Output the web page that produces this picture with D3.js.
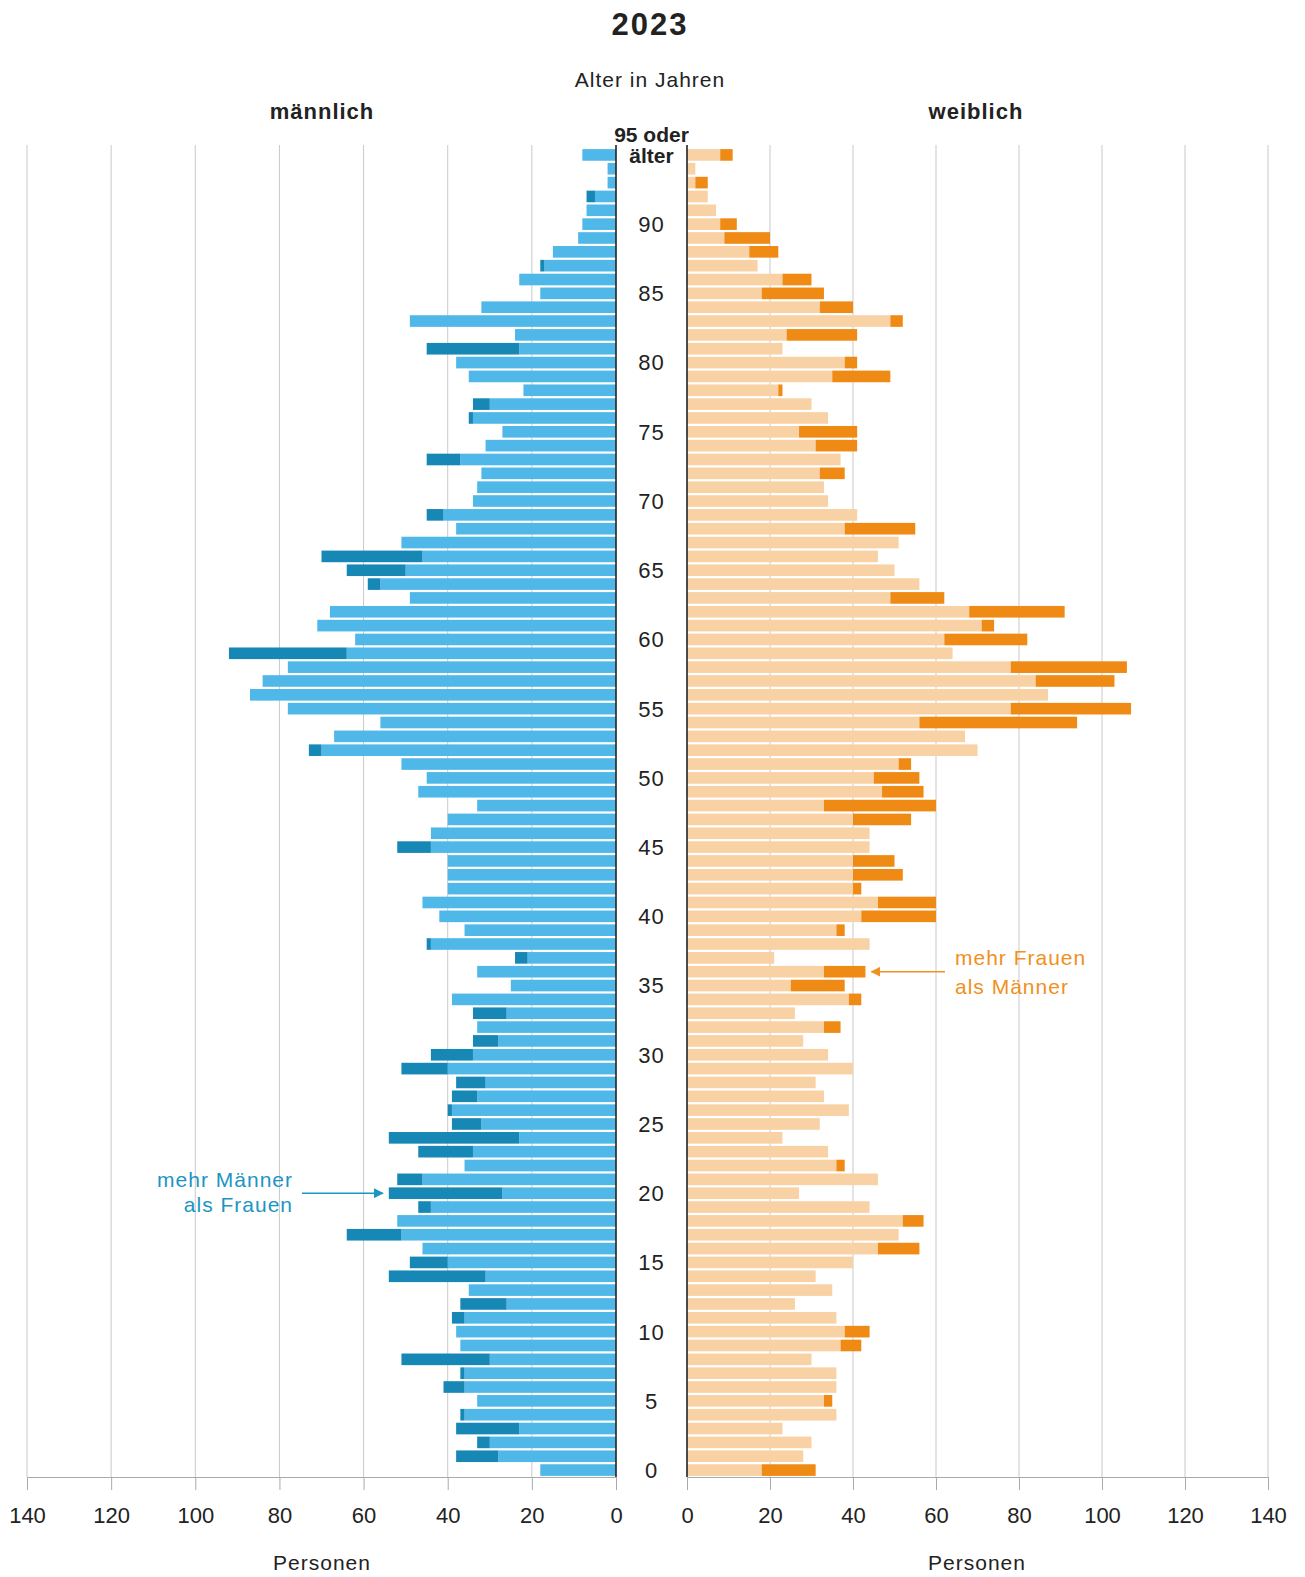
<!DOCTYPE html>
<html>
<head>
<meta charset="utf-8">
<script src="https://cdn.jsdelivr.net/npm/d3@7"></script>
<style>
  body { margin: 0; background: #fff; }
  svg text { font-family: "Liberation Sans", Arial, sans-serif; fill: #222; }
</style>
</head>
<body>
<div id="chart"></div>
<script>
// Alter 0..95 (95 = "95 oder älter")
const ages = d3.range(0, 96);

const male = [18, 38, 33, 38, 37, 33, 41, 37, 51, 37,
  38, 39, 37, 35, 54, 49, 46, 64, 52, 47,
  54, 52, 36, 47, 54, 39, 40, 39, 38, 51,
  44, 34, 33, 34, 39, 25, 33, 24, 45, 36,
  42, 46, 40, 40, 40, 52, 44, 40, 33, 47,
  45, 51, 73, 67, 56, 78, 87, 84, 78, 92,
  62, 71, 68, 49, 59, 64, 70, 51, 38, 45,
  34, 33, 32, 45, 31, 27, 35, 34, 22, 35,
  38, 45, 24, 49, 32, 18, 23, 18, 15, 9,
  8, 7, 7, 2, 2, 8];

const female = [31, 28, 30, 23, 36, 35, 36, 36, 30, 42,
  44, 36, 26, 35, 31, 40, 56, 51, 57, 44,
  27, 46, 38, 34, 23, 32, 39, 33, 31, 40,
  34, 28, 37, 26, 42, 38, 43, 21, 44, 38,
  60, 60, 42, 52, 50, 44, 44, 54, 60, 57,
  56, 54, 70, 67, 94, 107, 87, 103, 106, 64,
  82, 74, 91, 62, 56, 50, 46, 51, 55, 41,
  34, 33, 38, 37, 41, 41, 34, 30, 23, 49,
  41, 23, 41, 52, 40, 33, 30, 17, 22, 20,
  12, 7, 5, 5, 2, 11];

const xTicks = [0, 20, 40, 60, 80, 100, 120, 140];
const ageLabels = d3.range(0, 91, 5);

const width = 1305;
const height = 1577;

const col = {
  maleLight: "#50b8e8",
  maleDark: "#1787b5",
  femLight: "#f8d2a4",
  femDark: "#ef8a14",
  grid: "#c9c9c9"
};

const svg = d3.select("#chart")
  .append("svg")
  .attr("width", width)
  .attr("height", height);

const xM = d3.scaleLinear().domain([0, 140]).range([616, 27]);
const xF = d3.scaleLinear().domain([0, 140]).range([687, 1268]);

const y = d3.scaleBand()
  .domain(ages.slice().reverse())
  .range([148, 1477])
  .paddingInner(0.16)
  .paddingOuter(0.08);

const axisY = 1477;
const gridTop = 145;

// gridlines
svg.append("g")
  .selectAll("line")
  .data(xTicks.filter(d => d > 0))
  .join("line")
    .attr("x1", d => xM(d)).attr("x2", d => xM(d))
    .attr("y1", gridTop).attr("y2", axisY)
    .attr("stroke", col.grid).attr("stroke-width", 1);

svg.append("g")
  .selectAll("line")
  .data(xTicks.filter(d => d > 0))
  .join("line")
    .attr("x1", d => xF(d)).attr("x2", d => xF(d))
    .attr("y1", gridTop).attr("y2", axisY)
    .attr("stroke", col.grid).attr("stroke-width", 1);

const rows = ages.map((a, i) => ({ age: a, m: male[i], f: female[i], lo: Math.min(male[i], female[i]) }));

// male bars: light part up to the smaller value, dark part = surplus
const gm = svg.append("g");
gm.selectAll("rect.light")
  .data(rows)
  .join("rect")
    .attr("class", "light")
    .attr("x", d => xM(d.lo))
    .attr("y", d => y(d.age))
    .attr("width", d => xM(0) - xM(d.lo))
    .attr("height", y.bandwidth())
    .attr("fill", col.maleLight);
gm.selectAll("rect.dark")
  .data(rows.filter(d => d.m > d.f))
  .join("rect")
    .attr("class", "dark")
    .attr("x", d => xM(d.m))
    .attr("y", d => y(d.age))
    .attr("width", d => xM(d.f) - xM(d.m))
    .attr("height", y.bandwidth())
    .attr("fill", col.maleDark);

// female bars
const gf = svg.append("g");
gf.selectAll("rect.light")
  .data(rows)
  .join("rect")
    .attr("class", "light")
    .attr("x", xF(0))
    .attr("y", d => y(d.age))
    .attr("width", d => xF(d.lo) - xF(0))
    .attr("height", y.bandwidth())
    .attr("fill", col.femLight);
gf.selectAll("rect.dark")
  .data(rows.filter(d => d.f > d.m))
  .join("rect")
    .attr("class", "dark")
    .attr("x", d => xF(d.m))
    .attr("y", d => y(d.age))
    .attr("width", d => xF(d.f) - xF(d.m))
    .attr("height", y.bandwidth())
    .attr("fill", col.femDark);

// x axes
function styleAxis(g) {
  g.select(".domain").attr("stroke", "#aaa");
  g.selectAll(".tick line").attr("stroke", "#aaa");
  g.selectAll(".tick text")
    .attr("font-size", 22)
    .attr("fill", "#222")
    .attr("font-family", "Liberation Sans, Arial, sans-serif");
}

svg.append("g")
  .attr("transform", `translate(0,${axisY})`)
  .call(d3.axisBottom(xM).tickValues(xTicks).tickSize(13).tickSizeOuter(0).tickPadding(17))
  .call(styleAxis);

svg.append("g")
  .attr("transform", `translate(0,${axisY})`)
  .call(d3.axisBottom(xF).tickValues(xTicks).tickSize(13).tickSizeOuter(0).tickPadding(17))
  .call(styleAxis);

// zero lines
[xM(0), xF(0)].forEach(x => {
  svg.append("line")
    .attr("x1", x).attr("x2", x)
    .attr("y1", gridTop).attr("y2", axisY)
    .attr("stroke", "#222").attr("stroke-width", 1.6);
});

// age labels
const cx = (xM(0) + xF(0)) / 2;
svg.append("g")
  .selectAll("text")
  .data(ageLabels)
  .join("text")
    .attr("x", cx)
    .attr("y", d => y(d) + y.bandwidth() / 2)
    .attr("dy", "0.36em")
    .attr("text-anchor", "middle")
    .attr("font-size", 22)
    .attr("letter-spacing", 1)
    .text(d => d);

svg.append("text")
  .attr("x", cx).attr("y", 142)
  .attr("text-anchor", "middle")
  .attr("font-size", 21)
  .attr("font-weight", "bold")
  .text("95 oder");
svg.append("text")
  .attr("x", cx).attr("y", 163)
  .attr("text-anchor", "middle")
  .attr("font-size", 21)
  .attr("font-weight", "bold")
  .text("älter");

// titles
svg.append("text")
  .attr("x", 650).attr("y", 35)
  .attr("text-anchor", "middle")
  .attr("font-size", 31)
  .attr("font-weight", "bold")
  .attr("letter-spacing", 2)
  .text("2023");

svg.append("text")
  .attr("x", 650).attr("y", 87)
  .attr("text-anchor", "middle")
  .attr("font-size", 21)
  .attr("letter-spacing", 1)
  .text("Alter in Jahren");

svg.append("text")
  .attr("x", 322).attr("y", 119)
  .attr("text-anchor", "middle")
  .attr("font-size", 22)
  .attr("font-weight", "bold")
  .attr("letter-spacing", 1)
  .text("männlich");

svg.append("text")
  .attr("x", 976).attr("y", 119)
  .attr("text-anchor", "middle")
  .attr("font-size", 22)
  .attr("font-weight", "bold")
  .attr("letter-spacing", 1)
  .text("weiblich");

svg.append("text")
  .attr("x", 322).attr("y", 1570)
  .attr("text-anchor", "middle")
  .attr("font-size", 21)
  .attr("letter-spacing", 1)
  .text("Personen");

svg.append("text")
  .attr("x", 977).attr("y", 1570)
  .attr("text-anchor", "middle")
  .attr("font-size", 21)
  .attr("letter-spacing", 1)
  .text("Personen");

// annotations
const defs = svg.append("defs");
[["arrB", "#1c95c4"], ["arrO", "#f0901e"]].forEach(([id, c]) => {
  defs.append("marker")
    .attr("id", id)
    .attr("viewBox", "0 0 10 10")
    .attr("refX", 9).attr("refY", 5)
    .attr("markerWidth", 10).attr("markerHeight", 10)
    .attr("markerUnits", "userSpaceOnUse")
    .attr("orient", "auto")
    .append("path")
      .attr("d", "M0,0 L10,5 L0,10 Z")
      .attr("fill", c);
});

const yM20 = y(20) + y.bandwidth() / 2;
svg.append("line")
  .attr("x1", 302).attr("x2", xM(male[20]) - 6)
  .attr("y1", yM20).attr("y2", yM20)
  .attr("stroke", "#1c95c4").attr("stroke-width", 1.4)
  .attr("marker-end", "url(#arrB)");
svg.append("text")
  .attr("x", 293).attr("y", yM20 - 6)
  .attr("text-anchor", "end")
  .attr("font-size", 21)
  .attr("letter-spacing", 1)
  .style("fill", "#1c95c4")
  .text("mehr Männer");
svg.append("text")
  .attr("x", 293).attr("y", yM20 + 19)
  .attr("text-anchor", "end")
  .attr("font-size", 21)
  .attr("letter-spacing", 1)
  .style("fill", "#1c95c4")
  .text("als Frauen");

const yF36 = y(36) + y.bandwidth() / 2;
svg.append("line")
  .attr("x1", 945).attr("x2", xF(female[36]) + 6)
  .attr("y1", yF36).attr("y2", yF36)
  .attr("stroke", "#f0901e").attr("stroke-width", 1.4)
  .attr("marker-end", "url(#arrO)");
svg.append("text")
  .attr("x", 955).attr("y", yF36 - 7)
  .attr("font-size", 21)
  .attr("letter-spacing", 1)
  .style("fill", "#f0901e")
  .text("mehr Frauen");
svg.append("text")
  .attr("x", 955).attr("y", yF36 + 22)
  .attr("font-size", 21)
  .attr("letter-spacing", 1)
  .style("fill", "#f0901e")
  .text("als Männer");
</script>
</body>
</html>
